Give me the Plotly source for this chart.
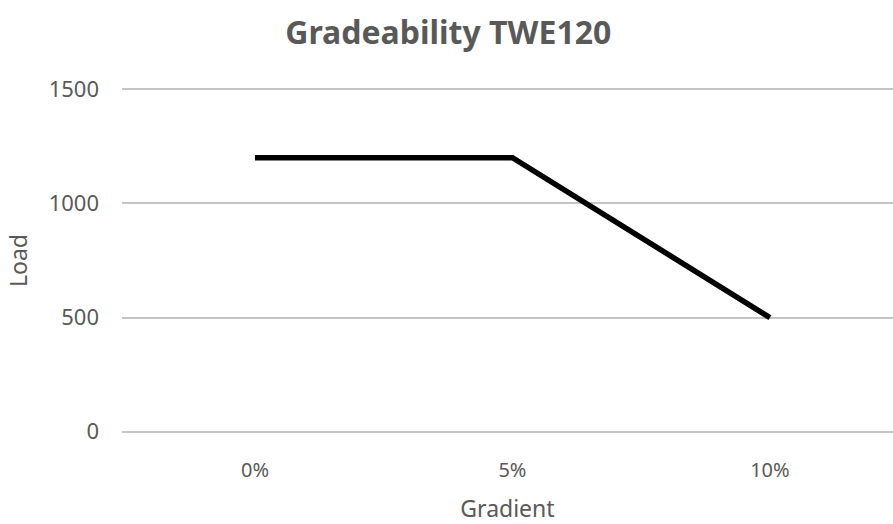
import plotly.graph_objects as go

categories = ["0%", "5%", "10%"]
load = [1200, 1200, 500]
y_ticks = [0, 500, 1000, 1500]

FONT = "Noto Sans"
GREY = "#595959"

fig = go.Figure()
fig.add_trace(go.Scatter(
    x=categories, y=load, mode="lines",
    line=dict(color="#000000", width=5.5),
    showlegend=False, hoverinfo="skip",
))

fig.update_layout(
    width=893, height=524,
    margin=dict(l=122, r=0, t=87, b=90, autoexpand=False),
    paper_bgcolor="white", plot_bgcolor="white",
    font=dict(family=FONT, color=GREY, size=20),
    title=dict(text="<b>Gradeability TWE120</b>", x=0.502, xanchor="center",
               y=1 - 33 / 524, yanchor="middle",
               font=dict(family=FONT, size=32, color=GREY)),
)
fig.update_xaxes(
    type="category", range=[-0.5165, 2.478],
    showgrid=False, zeroline=False, showline=False,
    ticks="", ticklabelstandoff=22,
    tickfont=dict(size=20, color=GREY),
    title=dict(text="Gradient", font=dict(size=23, color=GREY), standoff=24),
)
fig.update_yaxes(
    range=[-10, 1510], tickvals=y_ticks,
    showgrid=True, gridcolor="#c4c4c4", gridwidth=2,
    zeroline=False, showline=False, ticks="",
    ticklabelstandoff=22,
    tickfont=dict(size=22, color=GREY),
    title=dict(text="Load", font=dict(size=23, color=GREY), standoff=14),
)

fig.write_html("out.html", config={"displayModeBar": False},
               post_script="document.body.style.margin='0';")
